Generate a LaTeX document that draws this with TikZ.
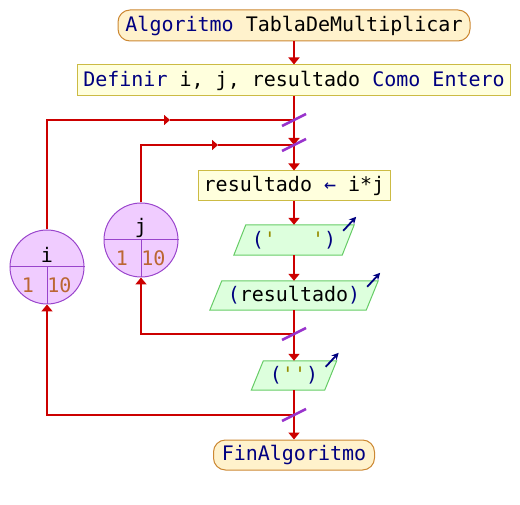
\documentclass[tikz,border=0pt]{standalone}
\usepackage{fontspec}
\newfontfamily\pf{DejaVu Sans Mono}
\usetikzlibrary{arrows.meta,calc,backgrounds}
\definecolor{flowred}{RGB}{204,0,0}
\definecolor{kwblue}{RGB}{0,0,128}
\definecolor{numcol}{RGB}{187,102,51}
\definecolor{strcol}{RGB}{150,140,0}
\definecolor{termfill}{RGB}{255,242,204}
\definecolor{termdraw}{RGB}{204,136,51}
\definecolor{procfill}{RGB}{255,255,221}
\definecolor{procdraw}{RGB}{204,187,68}
\definecolor{iofill}{RGB}{221,255,221}
\definecolor{iodraw}{RGB}{102,204,102}
\definecolor{loopfill}{RGB}{240,204,255}
\definecolor{loopdraw}{RGB}{153,68,204}
\definecolor{slashcol}{RGB}{153,51,204}
\newcommand{\kw}[1]{\textcolor{kwblue}{#1}}
\newcommand{\nm}[1]{\textcolor{numcol}{#1}}
\newcommand{\st}[1]{\textcolor{strcol}{#1}}
\begin{document}
\begin{tikzpicture}[x=1pt,y=-1pt,
  every node/.style={font=\pf\fontsize{20}{24}\selectfont, inner sep=0pt},
  term/.style={draw=termdraw, fill=termfill, rounded corners=12pt, line width=1pt},
  proc/.style={draw=procdraw, fill=procfill, line width=1pt},
  iopath/.style={draw=iodraw, fill=iofill, line width=1pt},
  outarrow/.style={draw=kwblue, line width=1.8pt, -{Stealth[length=7pt,width=7pt]}},
  loopc/.style={circle, draw=loopdraw, fill=loopfill, line width=1pt, minimum size=74pt},
  looplines/.style={draw=loopdraw, line width=1pt},
  flow/.style={draw=flowred, line width=2.5pt},
  arr/.style={flow, -{Triangle[length=7pt,width=11pt]}},
  midarr/.style={flow, -{Triangle[length=6pt,width=10pt]}},
  slash/.style={draw=slashcol, line width=2.5pt},
]
\useasboundingbox (0,0) rectangle (520,505);

% nodes
\node[term, minimum width=352pt, minimum height=31pt] (start) at (294,25.5) {\kw{Algoritmo} TablaDeMultiplicar};
\node[proc, minimum width=433pt, minimum height=31pt] (def) at (294,80.5) {\kw{Definir} i, j, resultado \kw{Como Entero}};
\node[proc, minimum width=192pt, minimum height=30pt] (res) at (294,186) {resultado \kw{←} i*j};
\node[minimum width=108pt, minimum height=30pt] (out1) at (294,240) {\kw{(}\st{'}\ \ \ \st{'}\kw{)}};
\node[minimum width=156pt, minimum height=29pt] (out2) at (294,295.5) {\kw{(}resultado\kw{)}};
\node[minimum width=73pt, minimum height=29pt] (out3) at (294,375.5) {\kw{(}\st{''}\kw{)}};
\node[term, minimum width=161pt, minimum height=30pt] (fin) at (294,455) {\kw{FinAlgoritmo}};

\begin{scope}[on background layer]
\foreach \n in {out1,out2,out3}{
  \path[iopath] ($(\n.south west)+(-6,0)$) -- ($(\n.south east)+(-6,0)$) -- ($(\n.north east)+(6,0)$) -- ($(\n.north west)+(6,0)$) -- cycle;
}
\end{scope}
\foreach \n in {out1,out2,out3}{
  \draw[outarrow] ($(\n.north east)+(-5,6)$) -- ($(\n.north east)+(8,-8)$);
}

% loop circles
\node[loopc] (ci) at (47,267) {};
\draw[looplines] (ci.west) -- (ci.east) (ci.center) -- (ci.south);
\node (ilab) at (47,255) {i};
\node (ifrom) at (28,285) {\nm{1}};
\node (ito) at (59.5,285) {\nm{10}};

\node[loopc] (cj) at (141,240) {};
\draw[looplines] (cj.west) -- (cj.east) (cj.center) -- (cj.south);
\node (jlab) at (141,228) {j};
\node (jfrom) at (122,258) {\nm{1}};
\node (jto) at (153.5,258) {\nm{10}};

% junction coordinates
\coordinate (li) at (294,120);
\coordinate (lj) at (294,145);
\coordinate (rj) at (294,334);
\coordinate (ri) at (294,415);
\coordinate (mi) at (170,120);
\coordinate (mj) at (218,145);

% main flow
\draw[arr] (start) -- (def);
\draw[flow] (def) -- (li);
\draw[arr] (li) -- (lj);
\draw[arr] (lj) -- (res);
\draw[arr] (res) -- (out1);
\draw[arr] (out1) -- (out2);
\draw[flow] (out2) -- (rj);
\draw[arr] (rj) -- (out3);
\draw[flow] (out3) -- (ri);
\draw[arr] (ri) -- (fin);

% loops
\draw[arr] (ri) -| (ci.south);
\draw[midarr] (ci.north) |- (mi);
\draw[flow] (mi) -- (li);
\draw[arr] (rj) -| (cj.south);
\draw[midarr] (cj.north) |- (mj);
\draw[flow] (mj) -- (lj);

% slashes
\foreach \c in {li,lj,rj,ri}{
  \draw[slash] ($(\c)+(-12,6)$) -- ($(\c)+(12,-6)$);
}
\end{tikzpicture}
\end{document}
